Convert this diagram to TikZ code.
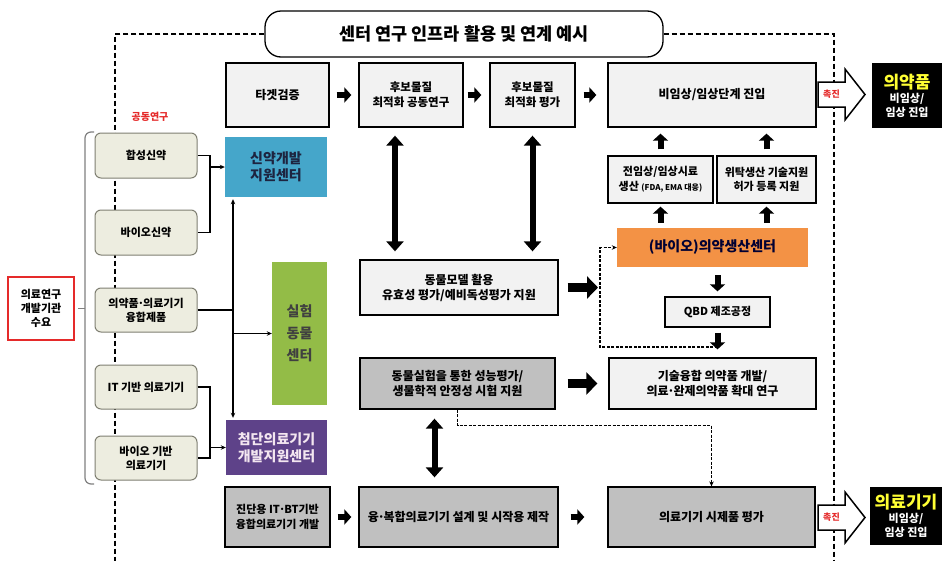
\documentclass[tikz,border=0pt]{standalone}
\usepackage{fontspec}
\setmainfont{Noto Sans CJK KR}
\usetikzlibrary{arrows.meta}
\definecolor{lbox}{HTML}{F2F2F2}
\definecolor{gbox}{HTML}{C0C0C0}
\definecolor{beige}{HTML}{EDEDE0}
\definecolor{beigeb}{HTML}{7F7F72}
\definecolor{cblue}{HTML}{45A6CA}
\definecolor{cgreen}{HTML}{93BC47}
\definecolor{cpurple}{HTML}{5E4289}
\definecolor{corange}{HTML}{F39245}
\definecolor{cred}{HTML}{E52A2A}
\definecolor{cyel}{HTML}{FFFF33}
\definecolor{darktxt}{HTML}{1D2440}
\definecolor{lighttxt}{HTML}{F3E6F0}
\newcommand{\mdot}{\makebox[0.4em][c]{·}}
\begin{document}
\begin{tikzpicture}[x=1pt,y=-1pt,
  font=\bfseries\fontsize{12}{15}\selectfont,
  lb/.style={draw=black, line width=1.3pt, fill=lbox, align=center, inner sep=1pt},
  gb/.style={lb, fill=gbox},
  bg/.style={draw=beigeb, line width=1pt, fill=beige, rounded corners=6pt, align=center, minimum width=102pt,
    font=\bfseries\fontsize{11}{14}\selectfont},
  ctr/.style={align=center, font=\bfseries\fontsize{14}{17}\selectfont, inner sep=1pt, text=darktxt},
  blk/.style={line width=6pt, -{Triangle[length=7pt,width=15pt]}},
  big/.style={line width=9pt, -{Triangle[length=11pt,width=22pt]}},
  dbl/.style={line width=6pt, {Triangle[length=10pt,width=17pt]}-{Triangle[length=10pt,width=17pt]}},
  ln/.style={line width=1.2pt},
  thin/.style={line width=1.2pt, -{Stealth[length=5pt,width=4.5pt]}},
  dl/.style={line width=1.1pt, dash pattern=on 3pt off 1.5pt, -{Stealth[length=5pt,width=4.5pt]}},
  frame/.style={line width=1.6pt, dash pattern=on 5pt off 3pt},
  hollow/.style={draw=black, line width=1.5pt, fill=white, line join=miter},
  dark/.style={fill=black, text=white, align=center, inner sep=0pt, font=\bfseries\fontsize{11}{14}\selectfont},
  promo/.style={text=cred, font=\bfseries\fontsize{9}{11}\selectfont, inner sep=0pt}
]
\fill[white] (0,0) rectangle (943,560);
\useasboundingbox (0,0) rectangle (943,560);

% title and frame
\node[draw=black, line width=1.3pt, rounded corners=16pt, fill=white, minimum width=398pt, minimum height=46pt,
  font=\bfseries\fontsize{17.5}{20}\selectfont] (title) at (464,34) {센터 연구 인프라 활용 및 연계 예시};
\coordinate (fl) at (115,34);
\coordinate (fr) at (834,34);
\draw[frame] (title.west) -- (fl) -- (115,570);
\draw[frame] (title.east) -- (fr) -- (834,570);

% left side
\node[promo, font=\bfseries\fontsize{10}{12}\selectfont] (joint) at (150,117) {공동연구};
\node[draw=cred, line width=1.8pt, fill=white, minimum width=66pt, minimum height=63pt, align=center,
  font=\bfseries\fontsize{11}{14}\selectfont] (need) at (41,308.5) {의료연구\\개발기관\\수요};
\node[bg, minimum height=45pt] (syn) at (146,155.5) {합성신약};
\node[bg, minimum height=45pt] (bio) at (146,232.5) {바이오신약};
\node[bg, minimum height=44pt] (conv2) at (146,310) {의약품\mdot 의료기기\\융합제품};
\node[bg, minimum height=44pt] (itd) at (146,387) {IT 기반 의료기기};
\node[bg, minimum height=44pt] (biod) at (146,458) {바이오 기반\\의료기기};
\draw[line width=1.2pt, draw=black!50, rounded corners=6pt] (94,132) -| (85,484) -- (94,484);
\draw[line width=1.2pt, draw=black!50, shorten >=3pt] (85,308.5) -- (need.east);

% centres
\node[fill=cblue, minimum width=102pt, minimum height=60pt, ctr] (blue) at (276,167) {신약개발\\지원센터};
\node[fill=cgreen, minimum width=55pt, minimum height=143pt, ctr, font=\bfseries\fontsize{14}{22}\selectfont, text=black!75] (green) at (299.5,333.5) {실험\\동물\\센터};
\node[fill=cpurple, minimum width=101pt, minimum height=55pt, ctr, text=lighttxt] (purple) at (276.5,447.5) {첨단의료기기\\개발지원센터};
\node[fill=corange, minimum width=191pt, minimum height=39pt, ctr, text=black!80!blue] (orange) at (712.5,247.5) {(바이오)의약생산센터};

% top row
\node[lb, minimum width=103pt, minimum height=64pt] (tgt) at (277.5,95) {타겟검증};
\node[lb, minimum width=104pt, minimum height=64pt, font=\bfseries\fontsize{11.5}{15}\selectfont] (cand1) at (411,95) {후보물질\\최적화 공동연구};
\node[lb, minimum width=85pt, minimum height=64pt, font=\bfseries\fontsize{11.5}{15}\selectfont] (cand2) at (532.5,95) {후보물질\\최적화 평가};
\node[lb, minimum width=208pt, minimum height=64pt] (nonclin) at (712,95) {비임상/임상단계 진입};
\node[lb, minimum width=105pt, minimum height=47pt, font=\bfseries\fontsize{11}{14.5}\selectfont] (pre) at (660.5,179.5) {전임상/임상시료\\생산 {\fontsize{8}{9}\selectfont (FDA, EMA 대응)}};
\node[lb, minimum width=99pt, minimum height=47pt, font=\bfseries\fontsize{11}{14.5}\selectfont] (cmo) at (766.5,179.5) {위탁생산 기술지원\\허가 등록 지원};
\node[lb, minimum width=105pt, minimum height=30pt, font=\bfseries\fontsize{11}{13}\selectfont] (qbd) at (717.5,312) {QBD 제조공정};

% middle rows
\node[lb, minimum width=198pt, minimum height=55pt] (anim) at (459,287.5) {동물모델 활용\\유효성 평가/예비독성평가 지원};
\node[gb, minimum width=195pt, minimum height=51pt] (sim) at (457.5,383.5) {동물실험을 통한 성능평가/\\생물학적 안정성 시험 지원};
\node[lb, minimum width=207pt, minimum height=51pt] (conv) at (712.5,383.5) {기술융합 의약품 개발/\\의료\mdot 완제의약품 확대 연구};

% bottom row
\node[gb, minimum width=105pt, minimum height=60pt, font=\bfseries\fontsize{11}{15}\selectfont] (diag) at (277.5,517) {진단용 IT\mdot BT기반\\융합의료기기 개발};
\node[gb, minimum width=199pt, minimum height=60pt] (fuse) at (458.5,517) {융\mdot 복합의료기기 설계 및 시작용 제작};
\node[gb, minimum width=207pt, minimum height=60pt] (evalb) at (711.5,517) {의료기기 시제품 평가};

% outputs
\draw[hollow] (818,82) -- (845,82) -- (845,69) -- (865,94.5) -- (845,120) -- (845,107) -- (818,107) -- cycle;
\node[promo] (pr1) at (831.5,94.5) {촉진};
\draw[hollow] (818,505) -- (845,505) -- (845,492) -- (865,517.5) -- (845,543) -- (845,530) -- (818,530) -- cycle;
\node[promo] (pr2) at (831.5,517.5) {촉진};
\node[dark, minimum width=70pt, minimum height=65pt] (drug) at (907,95.5) {{\color{cyel}\fontsize{17}{21}\selectfont 의약품}\\비임상/\\임상 진입};
\node[dark, minimum width=72pt, minimum height=58pt] (dev) at (906,516) {{\color{cyel}\fontsize{17}{21}\selectfont 의료기기}\\비임상/\\임상 진입};

% left connectors
\coordinate (j1) at (210,0);
\coordinate (j2) at (233,0);
\draw[ln] (syn.east) -- (syn.east -| j1) -- (bio.east -| j1) -- (bio.east);
\draw[thin] (j1 |- blue.west) -- (blue.west);
\draw[ln] (conv2.east) -- (conv2.east -| j2);
\draw[thin, {Stealth[length=5pt,width=4.5pt]}-{Stealth[length=5pt,width=4.5pt]}, shorten <=2pt, shorten >=2pt] (j2 |- blue.south) -- (j2 |- purple.north);
\draw[thin] (j2 |- green.west) -- (green.west);
\draw[ln] (itd.east) -- (itd.east -| j1) -- (biod.east -| j1) -- (biod.east);
\draw[thin] (j1 |- purple.west) -- (purple.west);

% top row arrows
\draw[blk, shorten <=7pt, shorten >=7pt] (tgt) -- (cand1);
\draw[blk, shorten <=4pt, shorten >=8pt] (cand1) -- (cand2);
\draw[blk, shorten <=8pt, shorten >=11pt] (cand2) -- (nonclin);
\draw[dbl, shorten <=8pt, shorten >=8pt] ([xshift=-16pt]cand1.south) -- ([xshift=-16pt]cand1.south |- anim.north);
\draw[dbl, shorten <=8pt, shorten >=8pt] (cand2.south) -- (cand2.south |- anim.north);
\draw[blk, shorten <=6pt, shorten >=6pt] (pre.north) -- (pre.north |- nonclin.south);
\draw[blk, shorten <=6pt, shorten >=6pt] (cmo.north) -- (cmo.north |- nonclin.south);
\draw[blk, shorten <=5pt, shorten >=3pt] (orange.north -| pre.south) -- (pre.south);
\draw[blk, shorten <=5pt, shorten >=3pt] (orange.north -| cmo.south) -- (cmo.south);
\draw[blk, shorten <=8pt, shorten >=5pt] (orange.south -| qbd.north) -- (qbd.north);
\draw[blk, shorten <=5pt, shorten >=8pt] (qbd.south) -- (qbd.south |- conv.north);

% dashed loop
\coordinate (lp) at (717.5,347);
\coordinate (lx) at (600,0);
\draw[dl] (lp) -- (lp -| lx) -- (lx |- orange.west) -- (orange.west);
\draw[big, shorten <=9pt, shorten >=2pt] (anim.east) -- (lx |- anim.east);
\draw[big, shorten <=12pt, shorten >=11pt] (sim.east) -- (conv.west);
\draw[dl] (sim.south) -- ++(0,16) -| (evalb.north);
\draw[dbl, shorten <=9pt, shorten >=9pt] ([xshift=-23pt]sim.south) -- ([xshift=-23pt]sim.south |- fuse.north);

% bottom arrows
\draw[blk, shorten <=7pt, shorten >=7pt] (diag) -- (fuse);
\draw[blk, shorten <=12pt, shorten >=23pt] (fuse) -- (evalb);
\end{tikzpicture}
\end{document}
